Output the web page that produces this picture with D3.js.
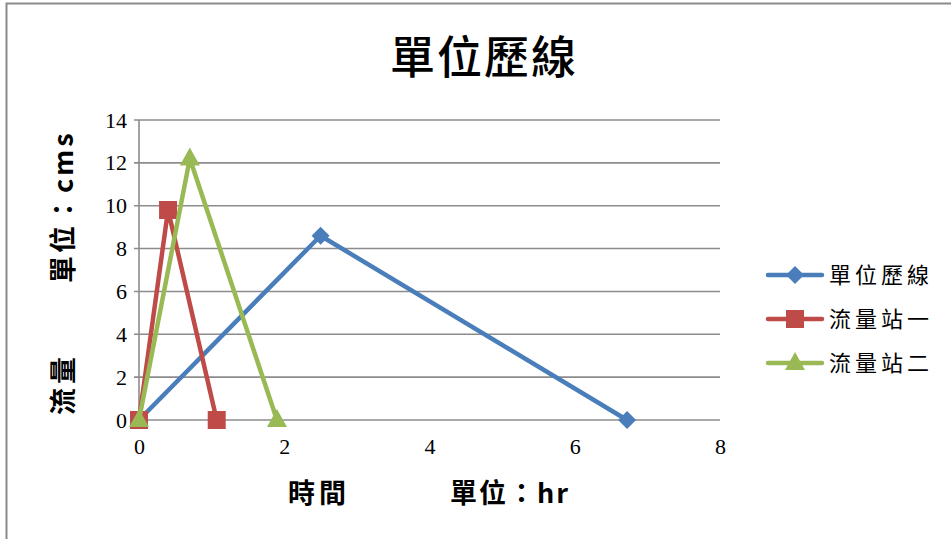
<!DOCTYPE html>
<html>
<head>
<meta charset="utf-8">
<script src="https://cdn.jsdelivr.net/npm/d3@7"></script>
<style>
  html, body { margin: 0; padding: 0; background: #fff; }
  svg { display: block; }
</style>
</head>
<body>
<svg id="chart" width="951" height="539"></svg>
<script>
// Hydrograph series: time (hr) and discharge (cms)
const unitTime = [0, 2.5, 6.72];
const unitFlow = [0, 8.6, 0];
const station1Time = [0, 0.4, 1.07];
const station1Flow = [0, 9.8, 0];
const station2Time = [0, 0.7, 1.9];
const station2Flow = [0, 12.2, 0];

const seriesNames = ["單位歷線", "流量站一", "流量站二"];
const xTicks = [0, 2, 4, 6, 8];
const yTicks = [0, 2, 4, 6, 8, 10, 12, 14];

const series = [
  { name: seriesNames[0], xs: unitTime, ys: unitFlow, color: "#4A7EBB", marker: "diamond" },
  { name: seriesNames[1], xs: station1Time, ys: station1Flow, color: "#BE4B48", marker: "square" },
  { name: seriesNames[2], xs: station2Time, ys: station2Flow, color: "#98B954", marker: "triangle" }
];

const svg = d3.select("#chart");
const cjk = "'Noto Sans CJK TC', 'Noto Sans CJK SC', sans-serif";
const serif = "'Liberation Serif', 'DejaVu Serif', serif";

// outer frame
svg.append("path")
  .attr("d", "M6.5,539 V3.5 H951")
  .attr("fill", "none").attr("stroke", "#8a8a8a").attr("stroke-width", 2);

const x = d3.scaleLinear().domain([0, 8]).range([139, 720]);
const y = d3.scaleLinear().domain([0, 14]).range([420, 120]);

// horizontal gridlines
svg.append("g").selectAll("line").data(yTicks).join("line")
  .attr("x1", x(0) - 5).attr("x2", x(8))
  .attr("y1", d => y(d)).attr("y2", d => y(d))
  .attr("stroke", "#8c8c8c").attr("stroke-width", 1.6);

// vertical axis line
svg.append("line")
  .attr("x1", x(0)).attr("x2", x(0)).attr("y1", y(14)).attr("y2", y(0))
  .attr("stroke", "#8c8c8c").attr("stroke-width", 1.6);

// axes (labels only, lines drawn above)
const yAxis = svg.append("g").attr("transform", `translate(${x(0) - 8},0)`)
  .call(d3.axisLeft(y).tickValues(yTicks).tickSize(0).tickPadding(4));
const xAxis = svg.append("g").attr("transform", `translate(0,${y(0) + 10})`)
  .call(d3.axisBottom(x).tickValues(xTicks).tickSize(0).tickPadding(8));
[yAxis, xAxis].forEach(g => {
  g.select(".domain").remove();
  g.selectAll("text").attr("font-family", serif).attr("font-size", 22).attr("fill", "#000");
});

// title
svg.append("text")
  .attr("x", 484).attr("y", 74)
  .attr("text-anchor", "middle")
  .attr("font-family", cjk).attr("font-size", 45).attr("font-weight", 500)
  .attr("letter-spacing", 2)
  .attr("fill", "#000")
  .text("單位歷線");

// y-axis title (two parts)
const yTitle = svg.append("g").attr("transform", "translate(73,0)");
yTitle.append("text")
  .attr("transform", "translate(0,415) rotate(-90)")
  .attr("font-family", cjk).attr("font-size", 27).attr("font-weight", 700)
  .attr("letter-spacing", 4).attr("fill", "#000")
  .text("流量");
yTitle.append("text")
  .attr("transform", "translate(0,283) rotate(-90)")
  .attr("font-family", cjk).attr("font-size", 27).attr("font-weight", 700)
  .attr("letter-spacing", 3).attr("fill", "#000")
  .text("單位：cms");

// x-axis title (two parts)
svg.append("text")
  .attr("x", 288).attr("y", 503)
  .attr("font-family", cjk).attr("font-size", 27).attr("font-weight", 700)
  .attr("letter-spacing", 4).attr("fill", "#000")
  .text("時間");
svg.append("text")
  .attr("x", 450).attr("y", 503)
  .attr("font-family", cjk).attr("font-size", 27).attr("font-weight", 700)
  .attr("letter-spacing", 2).attr("fill", "#000")
  .text("單位：hr");

function drawMarker(g, type, color, cx, cy) {
  if (type === "diamond") {
    g.append("path").attr("d", `M${cx},${cy - 9} L${cx + 9},${cy} L${cx},${cy + 9} L${cx - 9},${cy} Z`)
      .attr("fill", color);
  } else if (type === "square") {
    g.append("rect").attr("x", cx - 9).attr("y", cy - 9)
      .attr("width", 18).attr("height", 18).attr("fill", color);
  } else {
    g.append("path").attr("d", `M${cx},${cy - 11} L${cx + 10},${cy + 7} L${cx - 10},${cy + 7} Z`)
      .attr("fill", color);
  }
}

const line = d3.line().x(d => x(d[0])).y(d => y(d[1]));
const plot = svg.append("g");
series.forEach(s => {
  const pts = s.xs.map((v, i) => [v, s.ys[i]]);
  plot.append("path").datum(pts).attr("d", line)
    .attr("fill", "none").attr("stroke", s.color).attr("stroke-width", 4.5)
    .attr("stroke-linejoin", "round");
  pts.forEach(p => drawMarker(plot, s.marker, s.color, x(p[0]), y(p[1])));
});

// legend
const legend = svg.append("g");
series.forEach((s, i) => {
  const ly = 275 + i * 44;
  legend.append("line").attr("x1", 768).attr("x2", 822).attr("y1", ly).attr("y2", ly)
    .attr("stroke", s.color).attr("stroke-width", 4.5).attr("stroke-linecap", "round");
  drawMarker(legend, s.marker, s.color, 795, ly);
  legend.append("text").attr("x", 829).attr("y", ly + 8)
    .attr("font-family", cjk).attr("font-size", 22).attr("letter-spacing", 4)
    .attr("fill", "#000")
    .text(s.name);
});
</script>
</body>
</html>
